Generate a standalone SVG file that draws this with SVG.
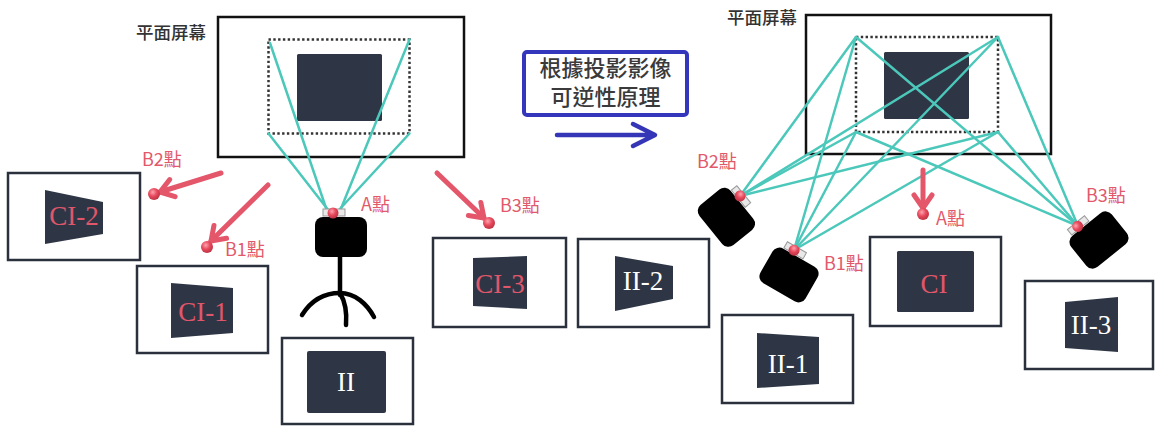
<svg xmlns="http://www.w3.org/2000/svg" width="1156" height="427" viewBox="0 0 1156 427">
  <defs>
    <style>
      .screen{fill:#fff;stroke:#111;stroke-width:2.5}
      .zone{fill:none;stroke:#333;stroke-width:2.5;stroke-dasharray:2.4 2.4}
      .panel{fill:#2e3646}
      .frame{fill:#fff;stroke:#2b313c;stroke-width:2.5}
      .ray{stroke:#4cc8bb;stroke-width:2.5;fill:none;stroke-linecap:round}
      .cap{font-family:"Noto Sans CJK TC","Noto Sans CJK SC",sans-serif;font-size:17.5px;font-weight:500;fill:#333}
      .lbl{font-family:"Noto Sans CJK TC","Noto Sans CJK SC",sans-serif;font-size:18px;fill:#e2596b}
      .note{font-family:"Noto Sans CJK TC","Noto Sans CJK SC",sans-serif;font-size:22px;font-weight:500;fill:#3a3a3a;text-anchor:middle}
      .img{font-family:"Liberation Serif",serif;font-size:27px;text-anchor:middle}
      .pink{fill:#e0566a}
      .white{fill:#fff}
      .parrow{stroke:#e4566a;stroke-width:5;stroke-linecap:round;fill:none;marker-end:url(#chev)}
      .leg{stroke:#000;stroke-width:4.5;fill:none;stroke-linecap:round}
    </style>
    <radialGradient id="dotGrad" cx="0.4" cy="0.35" r="0.7">
      <stop offset="0" stop-color="#ffa3ad"/>
      <stop offset="0.5" stop-color="#e6485c"/>
      <stop offset="1" stop-color="#b8303f"/>
    </radialGradient>
    <marker id="chev" viewBox="-17 -13 21 26" refX="0" refY="0" markerWidth="21" markerHeight="26" markerUnits="userSpaceOnUse" orient="auto" overflow="visible">
      <path d="M-13,-9 L0,0 L-13,9" fill="none" stroke="#e4566a" stroke-width="5" stroke-linecap="round" stroke-linejoin="round"/>
    </marker>
    <!-- camera: body, lens mount and red marker point at (-8,-24) -->
    <g id="cam">
      <rect x="-26" y="-20" width="52" height="40" rx="8" fill="#000"/>
      <rect x="-18" y="-28" width="22" height="7" fill="#e8e8e8" stroke="#999" stroke-width="1"/>
      <circle cx="-8" cy="-24" r="5.5" fill="url(#dotGrad)"/>
    </g>
  </defs>

  <rect width="1156" height="427" fill="#fff"/>

  <!-- left scene -->
  <g id="screen-left">
    <rect class="screen" x="218" y="17" width="246" height="140"/>
    <rect class="panel" x="297" y="54" width="85" height="67" rx="1.5"/>
    <rect class="zone" x="268.5" y="39.5" width="141" height="94"/>
    <text class="cap" x="136" y="38.5">平面屏幕</text>
  </g>

  <g id="box-ci2">
    <rect class="frame" x="8" y="173" width="132" height="87"/>
    <polygon class="panel" points="45,190 103,202 103,234 45,244"/>
    <text class="img pink" x="74" y="225" font-size="28">CI-2</text>
  </g>
  <g id="box-ci1">
    <rect class="frame" x="137" y="266" width="131" height="87"/>
    <polygon class="panel" points="171,283 233,288 233,333 171,338"/>
    <text class="img pink" x="203" y="321" font-size="28">CI-1</text>
  </g>
  <g id="box-ii">
    <rect class="frame" x="282" y="338" width="131" height="86"/>
    <rect class="panel" x="307" y="351" width="79" height="62" rx="2"/>
    <text class="img white" x="346" y="391">II</text>
  </g>
  <g id="box-ci3">
    <rect class="frame" x="433" y="238" width="133" height="89"/>
    <polygon class="panel" points="473,258 527,256 527,309 473,306"/>
    <text class="img pink" x="500" y="293">CI-3</text>
  </g>

  <!-- inference note -->
  <g id="note">
    <rect x="524" y="52" width="163" height="63" rx="3" fill="#fff" stroke="#3437bb" stroke-width="4"/>
    <text class="note" x="605.5" y="76">根據投影影像</text>
    <text class="note" x="605.5" y="105">可逆性原理</text>
  </g>

  <!-- right scene -->
  <g id="screen-right">
    <rect class="screen" x="806" y="15" width="245" height="139"/>
    <rect class="panel" x="884" y="52" width="85" height="67" rx="1.5"/>
    <rect class="zone" x="856" y="37" width="142" height="95"/>
    <text class="cap" x="727" y="23.5">平面屏幕</text>
  </g>

  <g id="box-ii2">
    <rect class="frame" x="578" y="239" width="131" height="88"/>
    <polygon class="panel" points="615,256 673,266 673,299 615,311"/>
    <text class="img white" x="643" y="290">II-2</text>
  </g>
  <g id="box-ii1">
    <rect class="frame" x="722" y="315" width="131" height="88"/>
    <polygon class="panel" points="757,333 819,337 819,384 757,388"/>
    <text class="img white" x="788" y="373">II-1</text>
  </g>
  <g id="box-ci">
    <rect class="frame" x="870" y="237" width="131" height="89"/>
    <rect class="panel" x="897" y="251" width="77" height="61" rx="1.5"/>
    <text class="img pink" x="934" y="293">CI</text>
  </g>
  <g id="box-ii3">
    <rect class="frame" x="1025" y="281" width="128" height="88"/>
    <polygon class="panel" points="1065,302 1118,297 1118,352 1065,348"/>
    <text class="img white" x="1091" y="334">II-3</text>
  </g>

  <!-- connectors -->
  <g id="connectors">
    <!-- projection rays, left camera -->
    <line class="ray" x1="270" y1="43" x2="327" y2="211"/>
    <line class="ray" x1="268.5" y1="133.5" x2="329" y2="211"/>
    <line class="ray" x1="409.5" y1="39.5" x2="340" y2="211"/>
    <line class="ray" x1="409.5" y1="133.5" x2="338" y2="211"/>
    <!-- projection rays, right cameras to the four corners -->
    <line class="ray" x1="856" y1="37" x2="740" y2="196"/>
    <line class="ray" x1="998" y1="37" x2="740" y2="196"/>
    <line class="ray" x1="856" y1="132" x2="740" y2="196"/>
    <line class="ray" x1="998" y1="132" x2="740" y2="196"/>
    <line class="ray" x1="856" y1="37" x2="794" y2="250"/>
    <line class="ray" x1="998" y1="37" x2="794" y2="250"/>
    <line class="ray" x1="856" y1="132" x2="794" y2="250"/>
    <line class="ray" x1="998" y1="132" x2="794" y2="250"/>
    <line class="ray" x1="856" y1="37" x2="1078" y2="226"/>
    <line class="ray" x1="998" y1="37" x2="1078" y2="226"/>
    <line class="ray" x1="856" y1="132" x2="1078" y2="226"/>
    <line class="ray" x1="998" y1="132" x2="1078" y2="226"/>
    <!-- viewpoint arrows -->
    <line class="parrow" x1="221" y1="173" x2="160" y2="192"/>
    <line class="parrow" x1="268" y1="185" x2="211" y2="241"/>
    <line class="parrow" x1="437" y1="173" x2="484" y2="218"/>
    <line class="parrow" x1="923" y1="170" x2="923" y2="208"/>
    <!-- transition arrow -->
    <path d="M557,135 H653 M633,124 L655,135 L633,146" fill="none" stroke="#3535b8" stroke-width="4.5" stroke-linecap="round" stroke-linejoin="round"/>
  </g>

  <!-- left camera on tripod -->
  <g id="camera-a">
    <line class="leg" x1="340" y1="255" x2="340" y2="295"/>
    <path class="leg" d="M302,315 C312,299 325,293 340,293 C355,293 367,304 374,317"/>
    <path class="leg" d="M340,293 C346,303 347,313 346,325"/>
    <use href="#cam" transform="translate(341,237)"/>
    <text class="lbl" x="361" y="211">A點</text>
  </g>

  <!-- viewpoint markers, left -->
  <g id="point-b2-left">
    <circle cx="154" cy="194" r="6" fill="url(#dotGrad)"/>
    <text class="lbl" x="142" y="166">B2點</text>
  </g>
  <g id="point-b1-left">
    <circle cx="207" cy="247" r="6" fill="url(#dotGrad)"/>
    <text class="lbl" x="225" y="256">B1點</text>
  </g>
  <g id="point-b3-left">
    <circle cx="489" cy="223" r="6" fill="url(#dotGrad)"/>
    <text class="lbl" x="500" y="212">B3點</text>
  </g>

  <!-- right cameras -->
  <g id="camera-b2">
    <use href="#cam" transform="translate(726.4,217.3) rotate(51)"/>
    <text class="lbl" x="697" y="168">B2點</text>
  </g>
  <g id="camera-b1">
    <use href="#cam" transform="translate(789,275) rotate(30)"/>
    <text class="lbl" x="824" y="270">B1點</text>
  </g>
  <g id="camera-b3">
    <use href="#cam" transform="translate(1099,240) rotate(-39)"/>
    <text class="lbl" x="1086" y="202">B3點</text>
  </g>
  <g id="point-a-right">
    <circle cx="923" cy="214" r="6" fill="url(#dotGrad)"/>
    <text class="lbl" x="936" y="225">A點</text>
  </g>
</svg>
